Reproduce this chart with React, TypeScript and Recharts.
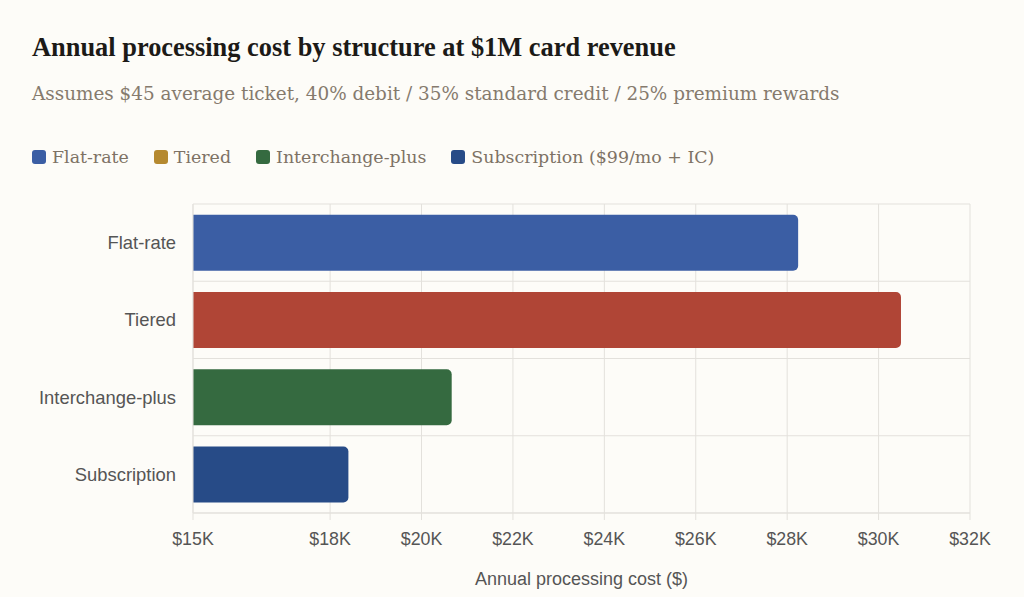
import { BarChart, Bar, XAxis, YAxis, CartesianGrid, Cell } from "recharts";

const categories = ["Flat-rate", "Tiered", "Interchange-plus", "Subscription"];
const annualCost = [28240, 30490, 20660, 18400];
const barColors = ["#3b5ea4", "#b04536", "#356a40", "#274b87"];

const legendLabels = ["Flat-rate", "Tiered", "Interchange-plus", "Subscription ($99/mo + IC)"];
const legendColors = ["#3b5ea4", "#b5892f", "#356a40", "#274b87"];

const xTicks = [15000, 18000, 20000, 22000, 24000, 26000, 28000, 30000, 32000];

const BG = "#fdfcf8";
const GRID = "#e3e1dc";
const SANS = "'Liberation Sans', Arial, sans-serif";

const data = categories.map((name, i) => ({ name, cost: annualCost[i] }));

const App = () => {
  return (
    <div
      style={{
        position: "absolute",
        left: 0,
        top: 0,
        width: 1024,
        height: 597,
        background: BG,
        overflow: "hidden",
      }}
    >
      <div
        style={{
          position: "absolute",
          left: 32,
          top: 31,
          lineHeight: "32px",
          fontFamily: "'Liberation Serif', serif",
          fontWeight: 700,
          fontSize: 26.4,
          color: "#1c1a17",
          whiteSpace: "nowrap",
        }}
      >
        Annual processing cost by structure at $1M card revenue
      </div>
      <div
        style={{
          position: "absolute",
          left: 32,
          top: 81,
          lineHeight: "26px",
          fontFamily: "'DejaVu Serif', serif",
          fontSize: 18.4,
          color: "#857a6d",
          whiteSpace: "nowrap",
        }}
      >
        Assumes $45 average ticket, 40% debit / 35% standard credit / 25% premium rewards
      </div>

      {/* legend */}
      <div
        style={{
          position: "absolute",
          left: 32,
          top: 145,
          height: 24,
          display: "flex",
          alignItems: "center",
          fontFamily: "'DejaVu Serif', serif",
          fontSize: 17.4,
          color: "#7d7265",
          whiteSpace: "nowrap",
        }}
      >
        {legendLabels.map((label, i) => (
          <div key={label} style={{ display: "flex", alignItems: "center", marginRight: 25 }}>
            <span
              style={{
                display: "inline-block",
                width: 14,
                height: 14,
                borderRadius: 3,
                background: legendColors[i],
                marginRight: 6,
              }}
            />
            {label}
          </div>
        ))}
      </div>

      <div style={{ position: "absolute", left: 0, top: 190 }}>
        <BarChart
          width={1024}
          height={407}
          data={data}
          layout="vertical"
          margin={{ top: 14, right: 54, bottom: 12, left: 0 }}
          barCategoryGap="14%"
        >
          <CartesianGrid
            stroke={GRID}
            horizontalCoordinatesGenerator={({ offset }: any) =>
              categories
                .map((_, i) => offset.top + (offset.height * i) / categories.length)
                .concat([offset.top + offset.height])
            }
          />
          <XAxis
            type="number"
            domain={[15000, 32000]}
            ticks={xTicks}
            interval={0}
            tickFormatter={(v: number) => `$${v / 1000}K`}
            axisLine={{ stroke: GRID }}
            tickLine={{ stroke: GRID }}
            tickSize={7}
            tickMargin={12}
            height={72}
            tick={{ fill: "#555", fontSize: 17.8, fontFamily: SANS }}
            label={{
              value: "Annual processing cost ($)",
              position: "insideBottom",
              offset: 0,
              fill: "#555",
              fontSize: 18,
              fontFamily: SANS,
            }}
          />
          <YAxis
            type="category"
            dataKey="name"
            width={193}
            axisLine={{ stroke: GRID }}
            tickLine={false}
            tickMargin={11}
            tick={{ fill: "#555", fontSize: 18.4, fontFamily: SANS }}
          />
          <Bar dataKey="cost" radius={[0, 5, 5, 0]} isAnimationActive={false}>
            {data.map((_, i) => (
              <Cell key={i} fill={barColors[i]} />
            ))}
          </Bar>
        </BarChart>
      </div>
    </div>
  );
};

export default App;
